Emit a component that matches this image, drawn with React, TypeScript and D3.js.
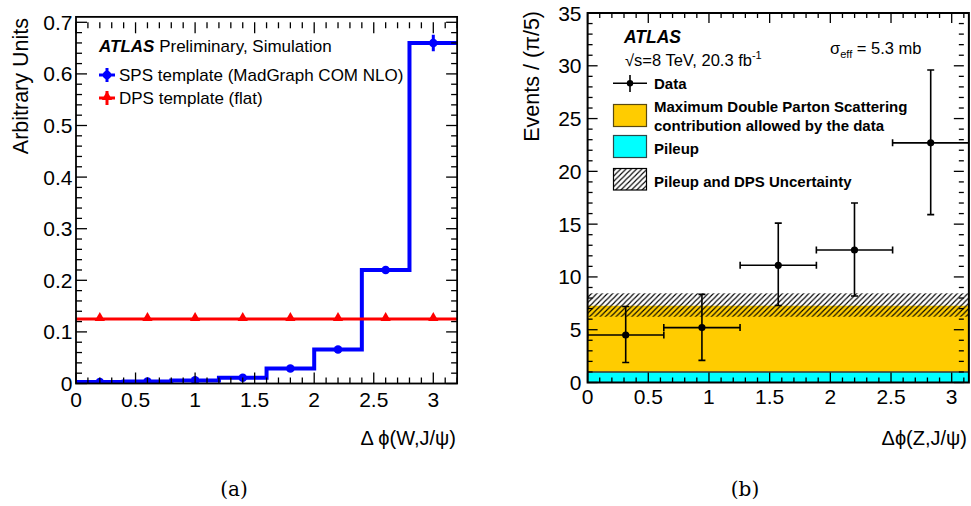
import React from "react";
import * as d3 from "d3";

// ---------- Data: panel (a) ----------
const spsBinEdges = [0, 0.4, 0.8, 1.2, 1.6, 2.0, 2.4, 2.8, 3.2];
const spsValues = [0.003, 0.004, 0.006, 0.011, 0.029, 0.066, 0.22, 0.66];
const spsErrors = [0.001, 0.001, 0.001, 0.002, 0.003, 0.004, 0.007, 0.016];
const dpsValues = [0.125, 0.125, 0.125, 0.125, 0.125, 0.125, 0.125, 0.125];
const yTicksA = [0, 0.1, 0.2, 0.3, 0.4, 0.5, 0.6, 0.7];
const xTicksA = [0, 0.5, 1, 1.5, 2, 2.5, 3];

// ---------- Data: panel (b) ----------
const nBinsB = 5;
const dataCenters = [0.314, 0.942, 1.571, 2.199, 2.827];
const dataValues = [4.5, 5.2, 11.1, 12.55, 22.7];
const dataHigh = [7.2, 8.35, 15.1, 17.0, 29.6];
const dataLow = [1.9, 2.1, 7.3, 8.2, 15.9];
const pileupLevel = [1.0];
const dpsStackTop = [7.27];
const uncBand = [6.23, 8.45];
const yTicksB = [0, 5, 10, 15, 20, 25, 30, 35];
const xTicksB = [0, 0.5, 1, 1.5, 2, 2.5, 3];

const FONT = "'Liberation Sans', Arial, Helvetica, sans-serif";

function Ticks({ x, y, xMin, xMax, yMin, yMax, xMinor, yMinor, xMajor, yMajor, majL, minL }: any) {
  const els: any[] = [];
  const x0 = x(xMin), y0 = y(yMin);
  const x1 = x(xMax), y1 = y(yMax);
  const eps = 1e-9;
  const nx = Math.floor((xMax - xMin) / xMinor + eps);
  for (let i = 0; i <= nx; i++) {
    const v = xMin + i * xMinor;
    const isMaj = Math.abs(v / xMajor - Math.round(v / xMajor)) < 1e-6;
    const L = isMaj ? majL : minL;
    const px = x(v);
    els.push(<line key={"xb" + i} x1={px} x2={px} y1={y0} y2={y0 - L} stroke="#000" strokeWidth={1.3} />);
    els.push(<line key={"xt" + i} x1={px} x2={px} y1={y1} y2={y1 + L} stroke="#000" strokeWidth={1.3} />);
  }
  const ny = Math.floor((yMax - yMin) / yMinor + eps);
  for (let i = 0; i <= ny; i++) {
    const v = yMin + i * yMinor;
    const isMaj = Math.abs(v / yMajor - Math.round(v / yMajor)) < 1e-6;
    const L = isMaj ? majL : minL;
    const py = y(v);
    els.push(<line key={"yl" + i} x1={x0} x2={x0 + L} y1={py} y2={py} stroke="#000" strokeWidth={1.3} />);
    els.push(<line key={"yr" + i} x1={x1} x2={x1 - L} y1={py} y2={py} stroke="#000" strokeWidth={1.3} />);
  }
  return <g>{els}</g>;
}

function PanelA() {
  const xMaxA = 3.2;
  const yMaxA = 0.7105;
  const x = d3.scaleLinear().domain([0, 3]).range([76, 433.3]);
  const y = d3.scaleLinear().domain([0, 0.7]).range([383.5, 22.3]);
  const centers = spsValues.map((_, i) => (spsBinEdges[i] + spsBinEdges[i + 1]) / 2);

  const stepPts: [number, number][] = [];
  spsValues.forEach((v, i) => {
    stepPts.push([spsBinEdges[i], v]);
    stepPts.push([spsBinEdges[i + 1], v]);
  });
  const line = d3.line<[number, number]>().x((d) => x(d[0])).y((d) => y(d[1]));
  const dpsPts: [number, number][] = [];
  dpsValues.forEach((v, i) => {
    dpsPts.push([spsBinEdges[i], v]);
    dpsPts.push([spsBinEdges[i + 1], v]);
  });
  const tri = d3.symbol().type(d3.symbolTriangle).size(46);

  return (
    <g>
      <defs>
        <clipPath id="clipA">
          <rect x={x(0)} y={y(yMaxA)} width={x(xMaxA) - x(0)} height={y(0) - y(yMaxA)} />
        </clipPath>
      </defs>
      <g clipPath="url(#clipA)">
        <path d={line(stepPts) || ""} fill="none" stroke="#0000ff" strokeWidth={4} />
        {centers.map((c, i) => (
          <g key={"sps" + i}>
            <line x1={x(c)} x2={x(c)} y1={y(spsValues[i] - spsErrors[i])} y2={y(spsValues[i] + spsErrors[i])} stroke="#0000ff" strokeWidth={3} />
            <circle cx={x(c)} cy={y(spsValues[i])} r={4.3} fill="#0000ff" />
          </g>
        ))}
        <path d={line(dpsPts) || ""} fill="none" stroke="#ff0000" strokeWidth={3} />
        {centers.map((c, i) => (
          <path key={"dps" + i} d={tri() || ""} transform={`translate(${x(c)},${y(dpsValues[i]) - 1})`} fill="#ff0000" />
        ))}
      </g>
      <rect x={x(0)} y={y(yMaxA)} width={x(xMaxA) - x(0)} height={y(0) - y(yMaxA)} fill="none" stroke="#000" strokeWidth={1.8} />
      <Ticks x={x} y={y} xMin={0} xMax={3.2} yMin={0} yMax={0.7} xMinor={0.1} yMinor={0.02} xMajor={0.5} yMajor={0.1} majL={11} minL={6} />
      {yTicksA.map((t) => (
        <text key={"yta" + t} x={72.5} y={y(t)} dy="0.36em" textAnchor="end" fontSize={21} fontFamily={FONT}>{t === 0 ? "0" : d3.format(".1f")(t)}</text>
      ))}
      {xTicksA.map((t) => (
        <text key={"xta" + t} x={x(t)} y={406.5} textAnchor="middle" fontSize={21} fontFamily={FONT}>{String(t)}</text>
      ))}
      <text transform="translate(28,18) rotate(-90)" textAnchor="end" fontSize={21.5} fontFamily={FONT}>Arbitrary Units</text>
      <text x={456} y={445} textAnchor="end" fontSize={20} fontFamily={FONT}>Δ ϕ(W,J/ψ)</text>
      <text x={99} y={52} fontSize={17} fontFamily={FONT}>
        <tspan fontWeight="bold" fontStyle="italic">ATLAS</tspan> Preliminary, Simulation
      </text>
      <g>
        <line x1={99} x2={115} y1={75} y2={75} stroke="#0000ff" strokeWidth={3} />
        <line x1={107} x2={107} y1={68} y2={82} stroke="#0000ff" strokeWidth={3} />
        <circle cx={107} cy={75} r={4.3} fill="#0000ff" />
        <text x={119} y={81} fontSize={17} fontFamily={FONT}>SPS template (MadGraph COM NLO)</text>
      </g>
      <g>
        <line x1={99} x2={115} y1={98} y2={98} stroke="#ff0000" strokeWidth={3} />
        <line x1={107} x2={107} y1={91} y2={105} stroke="#ff0000" strokeWidth={3} />
        <path d={tri() || ""} transform="translate(107,97)" fill="#ff0000" />
        <text x={119} y={104} fontSize={17} fontFamily={FONT}>DPS template (flat)</text>
      </g>
      <text x={234} y={496} textAnchor="middle" fontSize={20} fontFamily="'DejaVu Serif', serif">(a)</text>
    </g>
  );
}

function PanelB() {
  const x = d3.scaleLinear().domain([0, 3]).range([587.6, 951.7]);
  const y = d3.scaleLinear().domain([0, 35]).range([382.5, 13]);
  const xMaxB = Math.PI;
  const binW = xMaxB / nBinsB;
  const left = x(0), right = x(xMaxB);
  const cap = 3.5;

  return (
    <g>
      <defs>
        <pattern id="hatch" patternUnits="userSpaceOnUse" width={5.3} height={5.3}>
          <path d="M0,5.3 L5.3,0 M-1,1 L1,-1 M4.3,6.3 L6.3,4.3" stroke="#000" strokeWidth={1.1} />
        </pattern>
        <clipPath id="clipB">
          <rect x={left} y={y(35)} width={right - left} height={y(0) - y(35)} />
        </clipPath>
      </defs>
      <g clipPath="url(#clipB)">
        <rect x={left} y={y(pileupLevel[0])} width={right - left} height={y(0) - y(pileupLevel[0])} fill="#00ffff" />
        <rect x={left} y={y(dpsStackTop[0])} width={right - left} height={y(pileupLevel[0]) - y(dpsStackTop[0])} fill="#ffcc00" />
        <line x1={left} x2={right} y1={y(pileupLevel[0])} y2={y(pileupLevel[0])} stroke="#333" strokeWidth={1.5} />
        <rect x={left} y={y(uncBand[1])} width={right - left} height={y(uncBand[0]) - y(uncBand[1])} fill="url(#hatch)" />
        {dataCenters.map((c, i) => {
          const xl = x(c - binW / 2), xr = x(Math.min(c + binW / 2, xMaxB));
          const px = x(c), py = y(dataValues[i]);
          return (
            <g key={"d" + i} stroke="#000" strokeWidth={1.6}>
              <line x1={xl} x2={xr} y1={py} y2={py} />
              <line x1={xl} x2={xl} y1={py - cap} y2={py + cap} />
              <line x1={xr} x2={xr} y1={py - cap} y2={py + cap} />
              <line x1={px} x2={px} y1={y(dataLow[i])} y2={y(dataHigh[i])} />
              <line x1={px - cap} x2={px + cap} y1={y(dataLow[i])} y2={y(dataLow[i])} />
              <line x1={px - cap} x2={px + cap} y1={y(dataHigh[i])} y2={y(dataHigh[i])} />
              <circle cx={px} cy={py} r={3.6} fill="#000" stroke="none" />
            </g>
          );
        })}
      </g>
      <rect x={left} y={y(35)} width={right - left} height={y(0) - y(35)} fill="none" stroke="#000" strokeWidth={2} />
      <Ticks x={x} y={y} xMin={0} xMax={3.1} yMin={0} yMax={35} xMinor={0.1} yMinor={1} xMajor={0.5} yMajor={5} majL={10} minL={5} />
      {yTicksB.map((t) => (
        <text key={"ytb" + t} x={581.5} y={y(t)} dy="0.36em" textAnchor="end" fontSize={21} fontFamily={FONT}>{String(t)}</text>
      ))}
      {xTicksB.map((t) => (
        <text key={"xtb" + t} x={x(t)} y={404} textAnchor="middle" fontSize={21} fontFamily={FONT}>{String(t)}</text>
      ))}
      <text transform="translate(539,11) rotate(-90)" textAnchor="end" fontSize={21.5} fontFamily={FONT}>Events / (π/5)</text>
      <text x={967} y={445} textAnchor="end" fontSize={20} fontFamily={FONT}>Δϕ(Z,J/ψ)</text>

      <text x={624} y={43} fontSize={17.5} fontFamily={FONT} fontWeight="bold" fontStyle="italic">ATLAS</text>
      <text x={625} y={66} fontSize={16.5} fontFamily={FONT}>
        √s=8 TeV, 20.3 fb<tspan dy={-7} fontSize={11}>-1</tspan>
      </text>
      <text x={830} y={54} fontSize={16.5} fontFamily={FONT}>
        σ<tspan dy={4} fontSize={11}>eff</tspan><tspan dy={-4}> = 5.3 mb</tspan>
      </text>

      <g stroke="#000" strokeWidth={1.6}>
        <line x1={613} x2={647} y1={83.3} y2={83.3} />
        <line x1={630} x2={630} y1={75} y2={92} />
        <circle cx={630} cy={83.3} r={3.2} fill="#000" stroke="none" />
      </g>
      <text x={654} y={89} fontSize={15} fontWeight="bold" fontFamily={FONT}>Data</text>
      <rect x={613.5} y={104.5} width={33} height={22} fill="#ffcc00" stroke="#5a4a10" strokeWidth={1.2} />
      <text x={654} y={112} fontSize={15} fontWeight="bold" fontFamily={FONT}>Maximum Double Parton Scattering</text>
      <text x={654} y={131} fontSize={15} fontWeight="bold" fontFamily={FONT}>contribution allowed by the data</text>
      <rect x={613.5} y={135.5} width={33} height={22} fill="#00ffff" stroke="#2a4a4a" strokeWidth={1.2} />
      <text x={654} y={154} fontSize={15} fontWeight="bold" fontFamily={FONT}>Pileup</text>
      <rect x={613.5} y={168.5} width={33} height={21.5} fill="url(#hatch)" stroke="#000" strokeWidth={1.2} />
      <text x={654} y={187} fontSize={15} fontWeight="bold" fontFamily={FONT}>Pileup and DPS Uncertainty</text>

      <text x={745} y={496} textAnchor="middle" fontSize={20} fontFamily="'DejaVu Serif', serif">(b)</text>
    </g>
  );
}

export default function App() {
  return (
    <svg
      width={971}
      height={506}
      viewBox="0 0 971 506"
      style={{ position: "absolute", left: 0, top: 0, background: "#fff" }}
    >
      <rect x={0} y={0} width={971} height={506} fill="#fff" />
      <PanelA />
      <PanelB />
    </svg>
  );
}
